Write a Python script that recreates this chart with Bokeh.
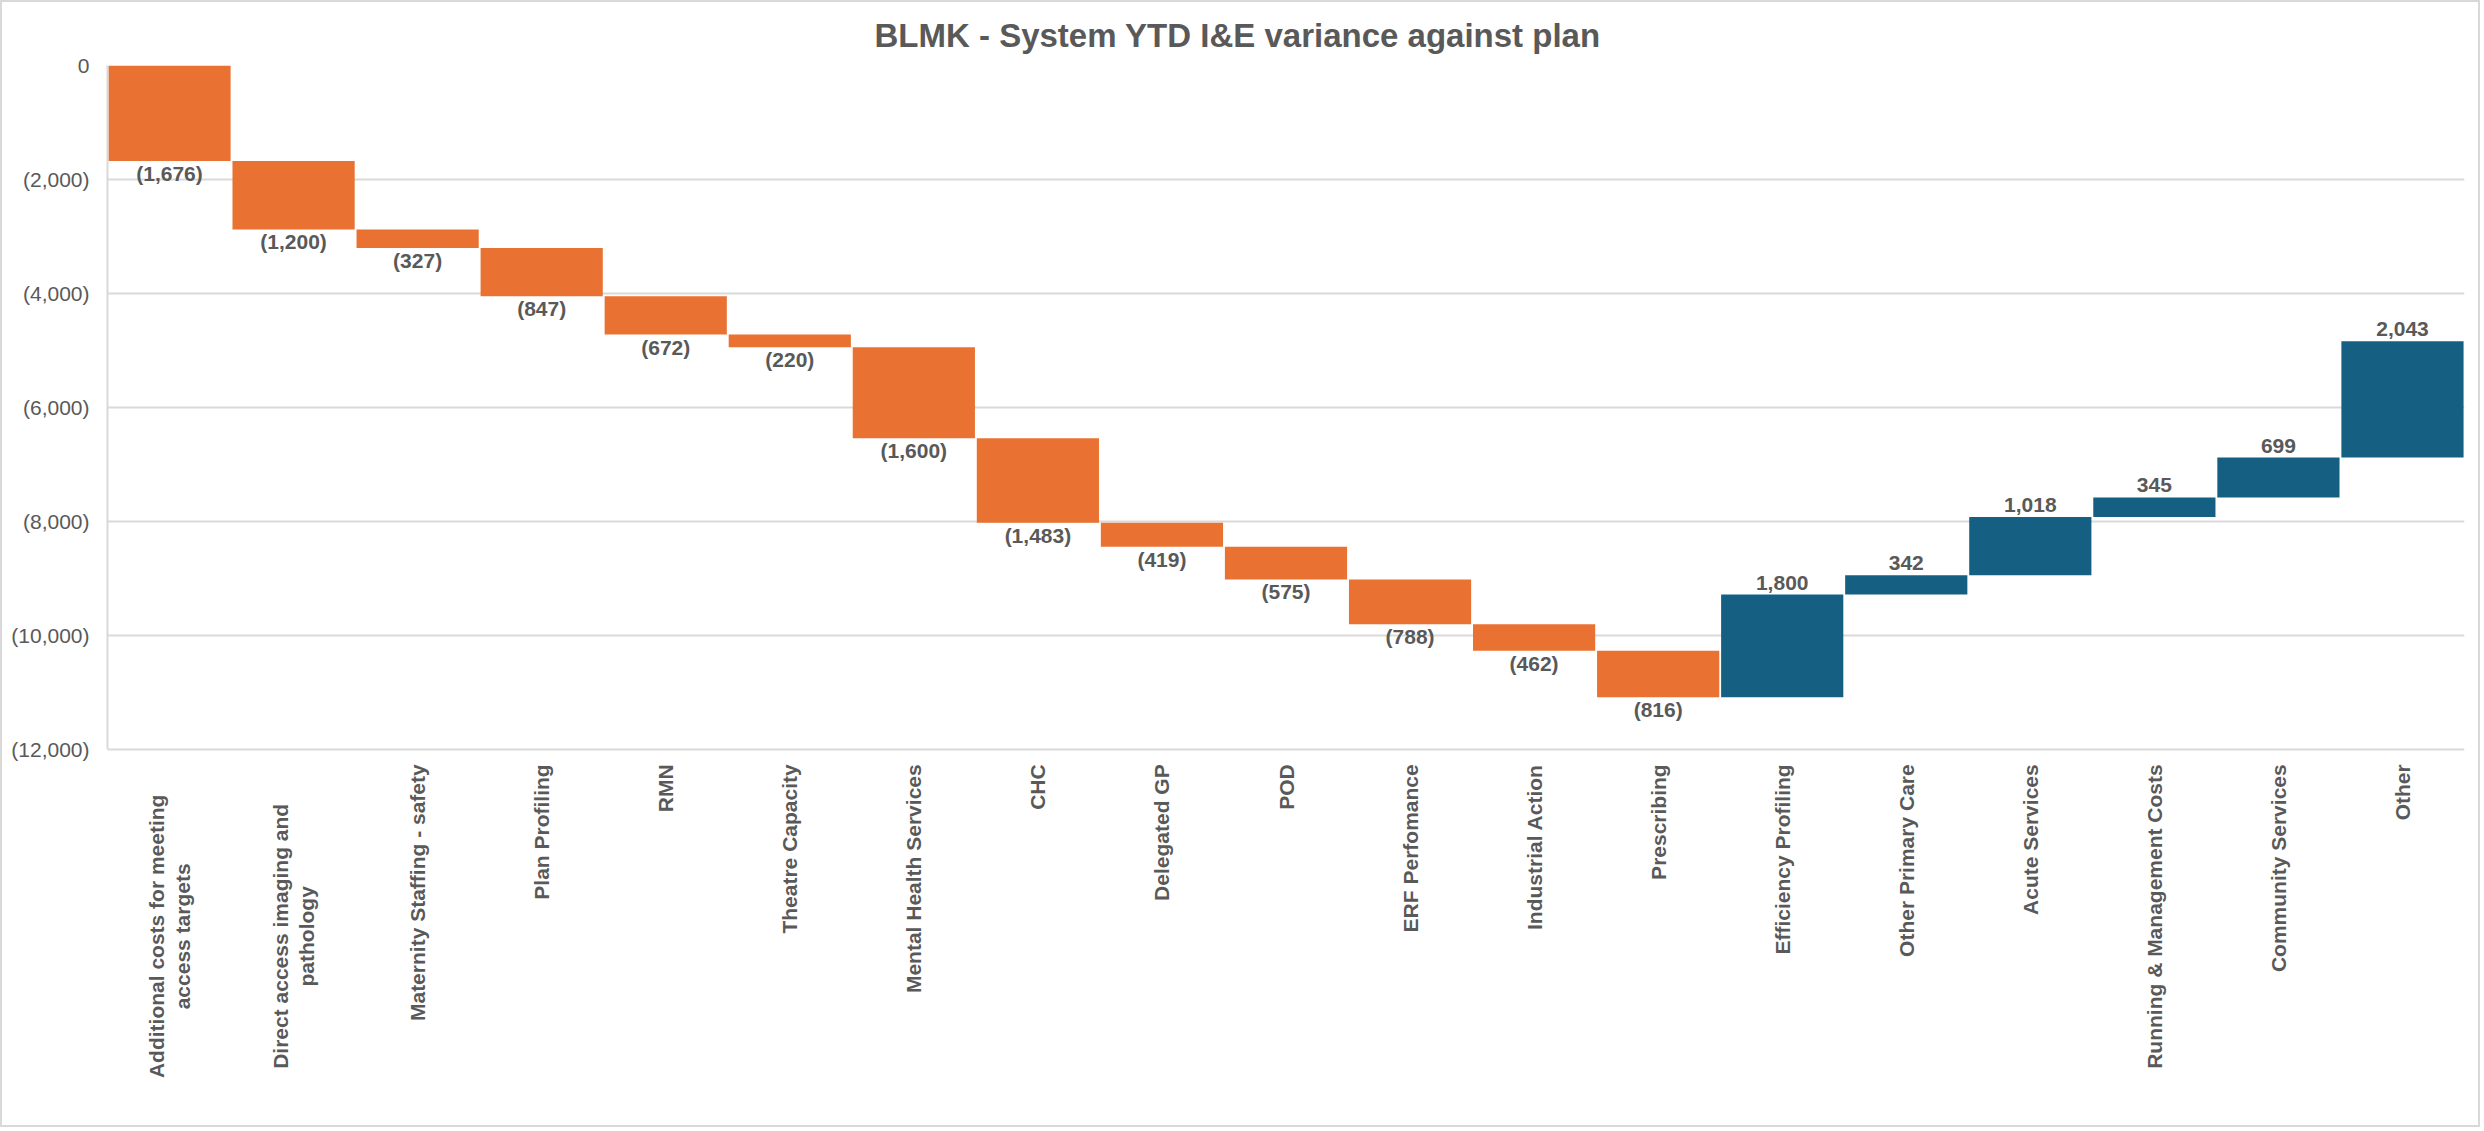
import numpy as np
from math import pi
from bokeh.plotting import figure
from bokeh.models import ColumnDataSource, FixedTicker, NumeralTickFormatter, Range1d
from bokeh.embed import file_html
from bokeh.resources import INLINE
from bokeh.core.properties import value

# ---------------- data ----------------
categories = [
    "Additional costs for meeting access targets",
    "Direct access imaging and pathology",
    "Maternity Staffing - safety",
    "Plan Profiling",
    "RMN",
    "Theatre Capacity",
    "Mental Health Services",
    "CHC",
    "Delegated GP",
    "POD",
    "ERF Perfomance",
    "Industrial Action",
    "Prescribing",
    "Efficiency Profiling",
    "Other Primary Care",
    "Acute Services",
    "Running & Management Costs",
    "Community Services",
    "Other",
]
wrapped_labels = {
    "Additional costs for meeting access targets": "Additional costs for meeting\naccess targets",
    "Direct access imaging and pathology": "Direct access imaging and\npathology",
}
variances = [-1676, -1200, -327, -847, -672, -220, -1600, -1483, -419, -575,
             -788, -462, -816, 1800, 342, 1018, 345, 699, 2043]
y_ticks = [0, -2000, -4000, -6000, -8000, -10000, -12000]
title_text = "BLMK - System YTD I&E variance against plan"

ORANGE = "#E97132"
BLUE = "#156082"
GREY_TXT = "#595959"
GRID = "#D9D9D9"
FONT = "Liberation Sans"

# ---------------- derived ----------------
var = np.array(variances, dtype=float)
ends = np.cumsum(var)
starts = ends - var
tops = np.maximum(starts, ends)
bottoms = np.minimum(starts, ends)
colors = [ORANGE if v < 0 else BLUE for v in variances]
texts = [f"({abs(v):,})" if v < 0 else f"{v:,}" for v in variances]

bars = ColumnDataSource(dict(cat=categories, top=tops, bottom=bottoms, color=colors))
neg_idx = [i for i, v in enumerate(variances) if v < 0]
pos_idx = [i for i, v in enumerate(variances) if v >= 0]
neg_src = ColumnDataSource(dict(cat=[categories[i] for i in neg_idx],
                                y=[bottoms[i] for i in neg_idx],
                                t=[texts[i] for i in neg_idx]))
pos_src = ColumnDataSource(dict(cat=[categories[i] for i in pos_idx],
                                y=[tops[i] for i in pos_idx],
                                t=[texts[i] for i in pos_idx]))

axis_floor = min(y_ticks)
single = [c for c in categories if c not in wrapped_labels]
multi = [c for c in categories if c in wrapped_labels]
single_src = ColumnDataSource(dict(cat=single, y=[axis_floor] * len(single), t=single))
multi_src = ColumnDataSource(dict(cat=multi, y=[axis_floor] * len(multi),
                                  t=[wrapped_labels[c] for c in multi]))

# ---------------- figure ----------------
p = figure(
    x_range=categories,
    y_range=Range1d(-18250, 0),
    width=2480, height=1127,
    output_backend="svg",
    toolbar_location=None,
    min_border_left=105, min_border_right=18,
    min_border_top=63, min_border_bottom=24,
    styles={"border": "2px solid #D9D9D9"},
)
p.outline_line_color = None
p.background_fill_color = "white"
p.border_fill_color = "white"

p.title.text = title_text
p.title.align = "left"
p.title.text_font = FONT
p.title.text_font_size = "33px"
p.title.text_font_style = "bold"
p.title.text_color = GREY_TXT
p.title.offset = 767
p.title.standoff = 23

p.vbar(x="cat", top="top", bottom="bottom", width=0.985, color="color",
       line_color=None, source=bars)

p.text(x="cat", y="y", text="t", source=neg_src, text_align="center",
       text_baseline="top", y_offset=1, text_font=value(FONT),
       text_font_size="21px", text_font_style="bold", text_color=GREY_TXT)
p.text(x="cat", y="y", text="t", source=pos_src, text_align="center",
       text_baseline="bottom", y_offset=-5, text_font=value(FONT),
       text_font_size="21px", text_font_style="bold", text_color=GREY_TXT)

# category labels (drawn below the value axis floor)
p.text(x="cat", y="y", text="t", source=single_src, angle=pi / 2,
       text_align="right", text_baseline="middle", y_offset=15,
       text_font=value(FONT), text_font_size="21px", text_font_style="bold",
       text_color=GREY_TXT)
p.text(x="cat", y="y", text="t", source=multi_src, angle=pi / 2,
       text_align="center", text_baseline="middle", y_offset=187,
       text_font=value(FONT), text_font_size="21px", text_font_style="bold",
       text_color=GREY_TXT, text_line_height=1.15)

# axes & grid
p.xaxis.visible = False
p.xgrid.grid_line_color = None
p.yaxis.ticker = FixedTicker(ticks=y_ticks)
p.yaxis.formatter = NumeralTickFormatter(format="(0,0)")
p.yaxis.bounds = (axis_floor, 0)
p.yaxis.axis_line_color = GRID
p.yaxis.axis_line_width = 2
p.yaxis.major_tick_line_color = None
p.yaxis.minor_tick_line_color = None
p.yaxis.major_label_text_font = FONT
p.yaxis.major_label_text_font_size = "21px"
p.yaxis.major_label_text_color = GREY_TXT
p.yaxis.major_label_standoff = 12
p.ygrid.ticker = FixedTicker(ticks=y_ticks)
p.ygrid.grid_line_color = GRID
p.ygrid.grid_line_width = 2
p.ygrid.bounds = (axis_floor, 0)

open("out.html", "w").write(file_html(p, INLINE))
